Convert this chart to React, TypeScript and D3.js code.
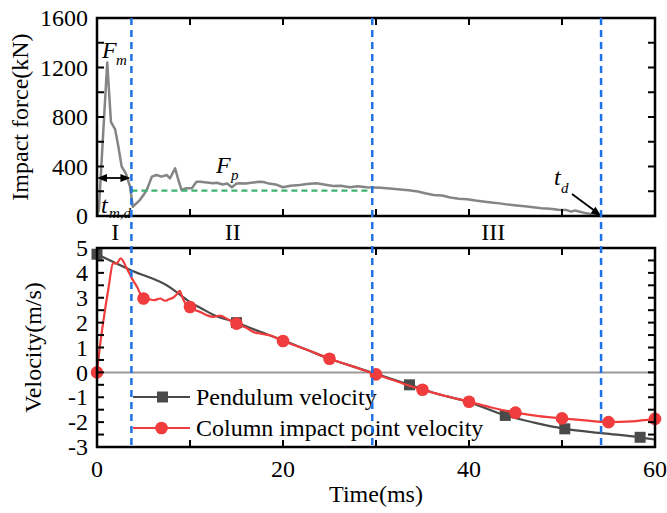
import React from "react";
import * as d3 from "d3";

// ---------- Data ----------
// Impact force (kN) vs time (ms)
const forceTime = [0, 0.2, 0.65, 1.1, 1.3, 1.5, 1.95, 2.3, 2.65, 3.1, 3.55, 3.85, 4.2, 4.6, 5.0, 5.35, 5.9, 6.4, 6.95, 7.5, 7.85, 8.4, 8.75, 9.1, 9.6, 10.2, 10.7, 11.1, 11.8, 12.5, 12.9, 13.5, 14.0, 14.5, 15.0, 15.4, 16.0, 16.8, 17.4, 17.9, 18.5, 19.2, 20.0, 20.8, 21.8, 22.6, 23.6, 24.4, 25.4, 26.2, 27.2, 28.0, 29.0, 29.7, 30.5, 31.5, 32.6, 33.5, 34.5, 35.4, 36.2, 37.1, 38.0, 38.9, 39.8, 40.7, 41.5, 42.4, 43.3, 44.2, 45.1, 46.0, 46.9, 47.8, 48.7, 49.6, 50.5, 51.0, 51.4, 52.3, 53.2, 54.1, 55, 60];
const forceValue = [0, 50, 650, 1240, 1000, 760, 700, 560, 400, 345, 237, 75, 100, 129, 170, 210, 318, 331, 318, 331, 305, 385, 291, 210, 224, 224, 277, 277, 270, 264, 269, 255, 262, 232, 262, 264, 262, 270, 277, 275, 262, 255, 232, 245, 250, 258, 264, 255, 242, 245, 232, 240, 232, 230, 228, 222, 215, 208, 198, 182, 170, 165, 150, 140, 135, 125, 118, 110, 102, 92, 85, 78, 70, 62, 58, 50, 48, 35, 45, 27, 15, 0, 0, 0];

// Pendulum velocity (m/s)
const pendulumTime = [0, 3.7, 7.85, 9.0, 10.0, 11.1, 12.5, 15, 17.5, 20, 22.5, 25, 27.5, 30, 33.6, 36, 40, 43.9, 47, 50.3, 54.5, 58.4, 60];
const pendulumValue = [4.75, 4.1, 3.42, 3.1, 2.82, 2.6, 2.32, 2.0, 1.64, 1.29, 0.92, 0.55, 0.24, -0.06, -0.5, -0.8, -1.2, -1.73, -2.02, -2.27, -2.45, -2.61, -2.7];
const pendulumMarkerTime = [0, 15, 33.6, 43.9, 50.3, 58.4];
const pendulumMarkerValue = [4.75, 2.0, -0.5, -1.73, -2.27, -2.61];

// Column impact point velocity (m/s)
const columnTime = [0, 0.3, 0.7, 1.2, 1.75, 2.1, 2.55, 3.2, 3.75, 4.3, 5.0, 5.5, 6.1, 6.8, 7.3, 7.8, 8.2, 8.6, 8.9, 9.2, 9.5, 10.0, 10.6, 11.1, 11.8, 12.5, 13.2, 14.0, 15.0, 16.0, 17.0, 17.6, 18.6, 20, 22.5, 25, 27.5, 30, 32.5, 35, 37.5, 40, 42.5, 45, 47.5, 50, 52.5, 55, 57.5, 60];
const columnValue = [0, 1.0, 2.1, 3.3, 4.38, 4.38, 4.58, 4.18, 3.78, 3.44, 2.97, 2.95, 2.9, 2.97, 2.88, 2.95, 3.01, 3.15, 3.28, 3.0, 2.77, 2.63, 2.5, 2.43, 2.3, 2.23, 2.28, 2.15, 1.96, 1.8, 1.6, 1.56, 1.49, 1.26, 0.92, 0.55, 0.24, -0.08, -0.4, -0.7, -0.95, -1.18, -1.42, -1.62, -1.76, -1.85, -1.93, -2.0, -1.97, -1.87];
const columnMarkerTime = [0, 5, 10, 15, 20, 25, 30, 35, 40, 45, 50, 55, 60];
const columnMarkerValue = [0, 2.97, 2.63, 1.96, 1.26, 0.55, -0.08, -0.7, -1.18, -1.62, -1.85, -2.0, -1.87];

// Stage boundaries (ms), plateau force
const stageTimes = [3.7, 29.6, 54.2];
const plateauForce = 205;
const stageLabels = ["I", "II", "III"];
const stageLabelTime = [1.95, 14.6, 42.6];

// Ticks
const timeTicks = [0, 10, 20, 30, 40, 50, 60];
const timeLabels = [0, 20, 40, 60];
const forceLabels = [0, 400, 800, 1200, 1600];
const forceMinor = [0, 200, 400, 600, 800, 1000, 1200, 1400, 1600];
const velLabels = [-3, -2, -1, 0, 1, 2, 3, 4, 5];
const velMinor = d3.range(-3, 5.01, 0.5);

const FONT = "'Liberation Serif', 'Times New Roman', serif";
const GRAY = "#858585";
const DARK = "#4a4a4a";
const RED = "#f03c3c";
const BLUE = "#1f72e6";
const GREEN = "#3cb371";

export default function App() {
  const W = 667, H = 513;
  const x = d3.scaleLinear().domain([0, 60]).range([97, 655]);
  const yF = d3.scaleLinear().domain([0, 1600]).range([216, 18]);
  const yV = d3.scaleLinear().domain([-3, 5]).range([447, 248]);

  const forceLine = d3.line<number>().x((_, i) => x(forceTime[i])).y((d) => yF(d)).curve(d3.curveLinear)(forceValue) || "";
  const pendLine = d3.line<number>().x((_, i) => x(pendulumTime[i])).y((d) => yV(d)).curve(d3.curveMonotoneX)(pendulumValue) || "";
  const colLine = d3.line<number>().x((_, i) => x(columnTime[i])).y((d) => yV(d)).curve(d3.curveMonotoneX)(columnValue) || "";

  const TL = 7;

  const frame = (top: number, bottom: number) => (
    <rect x={x(0)} y={top} width={x(60) - x(0)} height={bottom - top} fill="none" stroke="#000" strokeWidth={2.5} />
  );

  const xTicks = (top: number, bottom: number) =>
    timeTicks.filter((t) => t > 0 && t < 60).map((t) => (
      <g key={"xt" + t + top}>
        <line x1={x(t)} x2={x(t)} y1={bottom} y2={bottom - TL} stroke="#000" strokeWidth={2} />
        <line x1={x(t)} x2={x(t)} y1={top} y2={top + TL} stroke="#000" strokeWidth={2} />
      </g>
    ));

  const arrowHead = (tx: number, ty: number, fx: number, fy: number, key: string) => {
    const ang = Math.atan2(ty - fy, tx - fx);
    const L = 10, Wd = 4;
    const bx = tx - L * Math.cos(ang), by = ty - L * Math.sin(ang);
    const px = -Math.sin(ang) * Wd, py = Math.cos(ang) * Wd;
    return <polygon key={key} points={`${tx},${ty} ${bx + px},${by + py} ${bx - px},${by - py}`} fill="#000" />;
  };

  return (
    <svg width={W} height={H} style={{ position: "absolute", left: 0, top: 0, background: "#fff" }} fontFamily={FONT}>
      <rect x={0} y={0} width={W} height={H} fill="#fff" />

      {/* ===== Top panel ===== */}
      <path d={forceLine} fill="none" stroke={GRAY} strokeWidth={2.5} strokeLinejoin="round" />
      <line x1={x(stageTimes[0])} x2={x(stageTimes[1])} y1={yF(plateauForce)} y2={yF(plateauForce)} stroke={GREEN} strokeWidth={2.2} strokeDasharray="6,4" />
      {forceMinor.map((v) => (
        <g key={"fm" + v}>
          <line x1={x(0)} x2={x(0) + TL} y1={yF(v)} y2={yF(v)} stroke="#000" strokeWidth={2} />
          <line x1={x(60)} x2={x(60) - TL} y1={yF(v)} y2={yF(v)} stroke="#000" strokeWidth={2} />
        </g>
      ))}
      {xTicks(yF(1600), yF(0))}
      {frame(yF(1600), yF(0))}
      {forceLabels.map((v) => (
        <text key={"fl" + v} x={88} y={yF(v)} dy="0.34em" textAnchor="end" fontSize={24}>{v}</text>
      ))}
      <text transform={`translate(28,${(yF(0) + yF(1600)) / 2}) rotate(-90)`} textAnchor="middle" fontSize={24}>Impact force(kN)</text>

      {/* Annotations */}
      <text x={102} y={58} fontSize={24} fontStyle="italic">F</text>
      <text x={116} y={65} fontSize={15} fontStyle="italic">m</text>
      <line x1={x(0) + 3} x2={x(stageTimes[0]) - 3} y1={178} y2={178} stroke="#000" strokeWidth={1.8} />
      {arrowHead(x(0), 178, x(stageTimes[0]), 178, "a1")}
      {arrowHead(x(stageTimes[0]) - 1, 178, x(0), 178, "a2")}
      <text x={101} y={213} fontSize={24} fontStyle="italic">t</text>
      <text x={109} y={218} fontSize={15} fontStyle="italic">m,d</text>
      <text x={216} y={173} fontSize={24} fontStyle="italic">F</text>
      <text x={231} y={180} fontSize={15} fontStyle="italic">p</text>
      <text x={554} y={185} fontSize={24} fontStyle="italic">t</text>
      <text x={561} y={193} fontSize={15} fontStyle="italic">d</text>
      <line x1={572} y1={194} x2={x(stageTimes[2]) - 2} y2={yF(0) - 2} stroke="#000" strokeWidth={1.8} />
      {arrowHead(x(stageTimes[2]), yF(0), 572, 194, "a3")}

      {stageLabels.map((s, i) => (
        <text key={s} x={x(stageLabelTime[i])} y={240} textAnchor="middle" fontSize={24}>{s}</text>
      ))}

      {/* ===== Bottom panel ===== */}
      <line x1={x(0)} x2={x(60)} y1={yV(0)} y2={yV(0)} stroke="#999" strokeWidth={2} />
      <path d={pendLine} fill="none" stroke={DARK} strokeWidth={2.2} />
      {pendulumMarkerTime.map((t, i) => (
        <rect key={"pm" + i} x={x(t) - 5.5} y={yV(pendulumMarkerValue[i]) - 5.5} width={11} height={11} fill={DARK} />
      ))}
      <path d={colLine} fill="none" stroke={RED} strokeWidth={2.2} />
      {columnMarkerTime.map((t, i) => (
        <circle key={"cm" + i} cx={x(t)} cy={yV(columnMarkerValue[i])} r={6.3} fill={RED} />
      ))}

      {velMinor.map((v) => (
        <g key={"vm" + v}>
          <line x1={x(0)} x2={x(0) + TL} y1={yV(v)} y2={yV(v)} stroke="#000" strokeWidth={2} />
          <line x1={x(60)} x2={x(60) - TL} y1={yV(v)} y2={yV(v)} stroke="#000" strokeWidth={2} />
        </g>
      ))}
      {xTicks(yV(5), yV(-3))}
      {frame(yV(5), yV(-3))}
      {velLabels.map((v) => (
        <text key={"vl" + v} x={88} y={yV(v)} dy="0.34em" textAnchor="end" fontSize={24}>{v < 0 ? "-" + Math.abs(v) : v}</text>
      ))}
      {timeLabels.map((t) => (
        <text key={"tl" + t} x={x(t)} y={477} textAnchor="middle" fontSize={24}>{t}</text>
      ))}
      <text x={(x(0) + x(60)) / 2} y={502} textAnchor="middle" fontSize={24}>Time(ms)</text>
      <text transform={`translate(41,${(yV(5) + yV(-3)) / 2}) rotate(-90)`} textAnchor="middle" fontSize={24}>Velocity(m/s)</text>

      {/* Legend */}
      <line x1={133} x2={190} y1={397} y2={397} stroke={DARK} strokeWidth={2.2} />
      <rect x={157} y={391.5} width={11} height={11} fill={DARK} />
      <text x={196} y={405} fontSize={24}>Pendulum velocity</text>
      <line x1={133} x2={190} y1={428} y2={428} stroke={RED} strokeWidth={2.2} />
      <circle cx={161.5} cy={428} r={6.3} fill={RED} />
      <text x={196} y={436} fontSize={24}>Column impact point velocity</text>

      {/* Stage boundaries */}
      {stageTimes.map((t) => (
        <line key={"st" + t} x1={x(t)} x2={x(t)} y1={yF(1600)} y2={yV(-3)} stroke={BLUE} strokeWidth={2.5} strokeDasharray="7,5" />
      ))}
    </svg>
  );
}
